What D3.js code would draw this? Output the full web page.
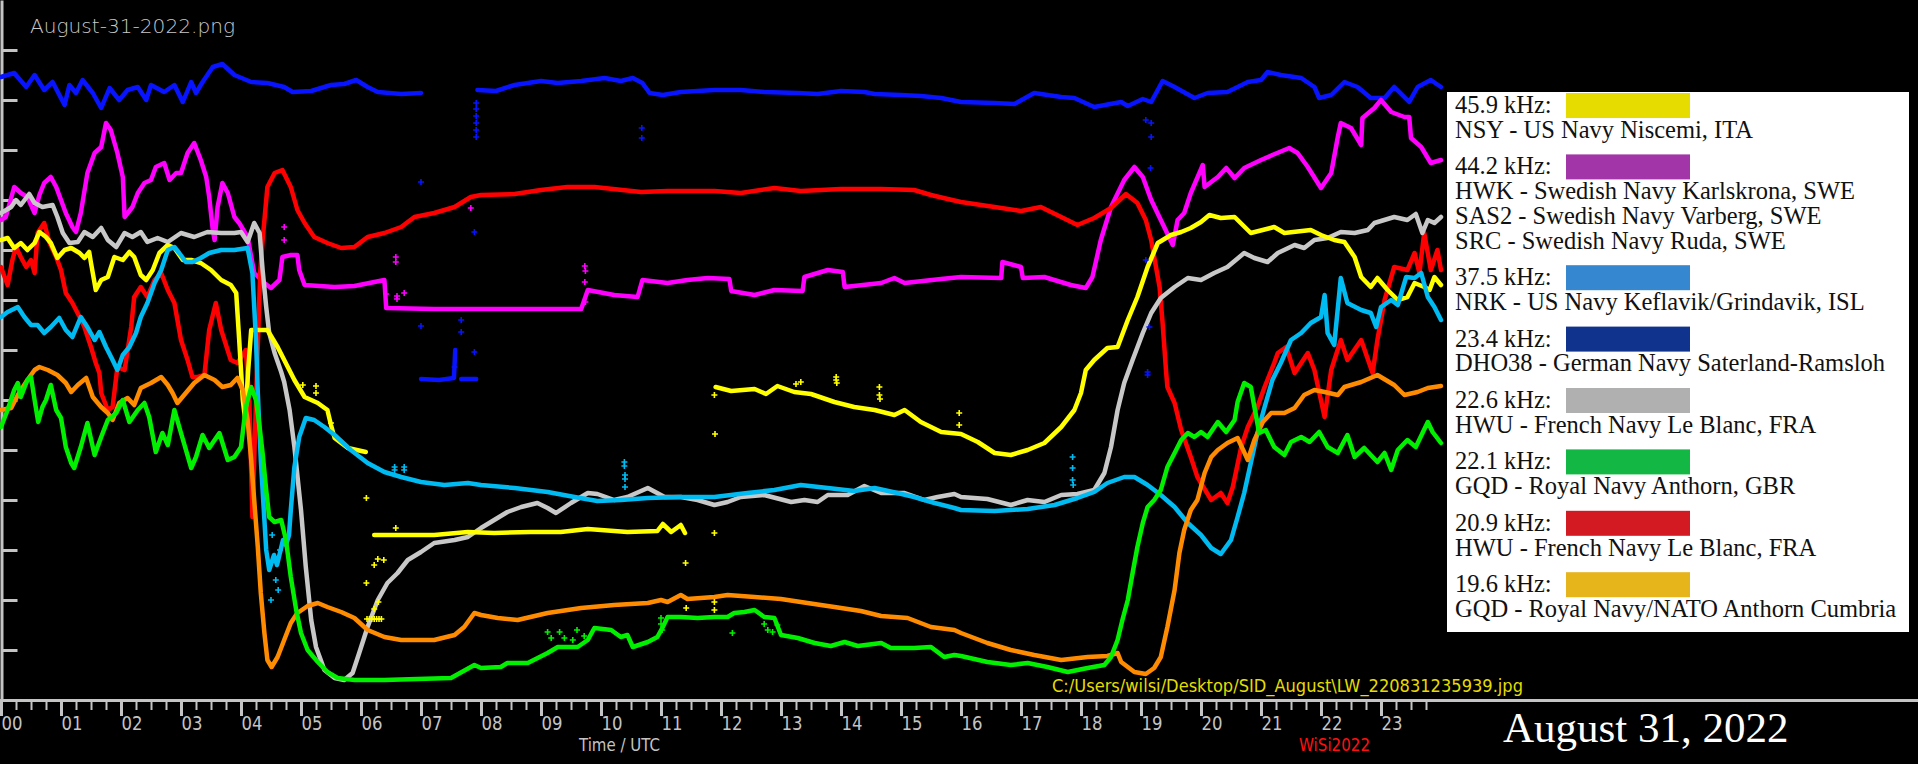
<!DOCTYPE html>
<html><head><meta charset="utf-8">
<script src="https://cdn.jsdelivr.net/npm/d3@7"></script>
<style>html,body{margin:0;padding:0;background:#000;overflow:hidden}</style>
</head><body><svg id="c" width="1918" height="764"></svg>
<script>
// ---------- DATA ----------
const hourLabels = ["00","01","02","03","04","05","06","07","08","09","10","11","12","13","14","15","16","17","18","19","20","21","22","23"];
const titleText = "August-31-2022.png";
const pathText = "C:/Users/wilsi/Desktop/SID_August\\LW_220831235939.jpg";
const axisTitle = "Time / UTC";
const creditText = "WiSi2022";
const dateText = "August 31, 2022";

const legendFreqs = ["45.9 kHz:","44.2 kHz:","37.5 kHz:","23.4 kHz:","22.6 kHz:","22.1 kHz:","20.9 kHz:","19.6 kHz:"];
const legendStations = [
  ["NSY - US Navy Niscemi, ITA"],
  ["HWK - Swedish Navy Karlskrona, SWE","SAS2 - Swedish Navy Varberg, SWE","SRC - Swedish Navy Ruda, SWE"],
  ["NRK - US Navy Keflavik/Grindavik, ISL"],
  ["DHO38 - German Navy Saterland-Ramsloh"],
  ["HWU - French Navy Le Blanc, FRA"],
  ["GQD - Royal Navy Anthorn, GBR"],
  ["HWU - French Navy Le Blanc, FRA"],
  ["GQD - Royal Navy/NATO Anthorn Cumbria"]
];
const legendSwatches = ["#e6dc00","#a236a8","#3587d0","#10348e","#b0b0b0","#12b843","#d31a23","#e6b41b"];

// series: [hour UTC, relative signal level]
const dho38Blue = [[0,623],[0.22,627],[0.42,613],[0.56,625],[0.72,610],[0.86,618],[1.06,595],[1.14,615],[1.25,607],[1.36,620],[1.53,607],[1.67,592],[1.81,612],[1.97,600],[2.11,610],[2.28,613],[2.42,600],[2.5,615],[2.72,608],[2.89,615],[3.03,598],[3.17,618],[3.25,607],[3.36,618],[3.53,633],[3.69,636],[3.89,625],[4.17,618],[4.44,617],[4.72,613],[4.86,608],[5.17,609],[5.5,615],[5.72,616],[5.92,620],[6.11,613],[6.28,608],[6.67,606],[7.0,607],[7.0,null],[7.0,321],[7.3,320],[7.55,322],[7.57,350],[7.6,null],[7.67,321],[7.92,321],[7.93,null],[7.94,610],[8.25,609],[8.56,615],[9,619],[9.28,617],[9.67,619],[10.06,622],[10.33,619],[10.53,622],[10.69,617],[10.81,607],[11.03,605],[11.33,608],[11.89,610],[12.33,610],[12.72,608],[13.28,607],[13.61,606],[14,609],[14.39,608],[14.56,606],[15,605],[15.33,604],[15.67,602],[16.0,598],[16.56,597],[16.89,596],[17.22,607],[17.67,603],[17.89,602],[18.22,593],[18.67,598],[18.78,594],[19.03,601],[19.17,598],[19.36,619],[19.56,613],[19.89,602],[20.11,607],[20.44,608],[20.78,618],[21,620],[21.11,628],[21.33,625],[21.67,622],[21.89,613],[21.97,602],[22.17,605],[22.39,618],[22.61,613],[22.83,602],[23.06,602],[23.22,613],[23.47,598],[23.61,613],[23.83,620],[24,613]];

const sweMagenta = [[0,480],[0.08,483],[0.22,513],[0.33,507],[0.44,503],[0.56,487],[0.64,505],[0.72,517],[0.83,523],[0.92,513],[1.0,500],[1.08,487],[1.19,473],[1.25,468],[1.33,487],[1.44,527],[1.56,547],[1.67,553],[1.75,577],[1.83,570],[1.94,547],[2.03,523],[2.06,483],[2.19,493],[2.28,507],[2.39,517],[2.5,520],[2.58,533],[2.72,537],[2.81,520],[2.92,527],[3.0,527],[3.11,547],[3.22,557],[3.33,540],[3.42,523],[3.47,503],[3.53,470],[3.56,460],[3.61,493],[3.69,517],[3.78,507],[3.89,483],[3.97,477],[4.11,463],[4.22,427],[4.39,417],[4.5,412],[4.64,420],[4.69,443],[4.83,445],[4.94,445],[4.97,430],[5.06,415],[5.56,413],[5.89,414],[6.39,420],[6.42,392],[7.22,391],[8,391],[9.67,391],[9.78,410],[10.22,405],[10.61,403],[10.69,420],[11.11,417],[11.44,420],[11.78,422],[12.14,421],[12.17,409],[12.56,405],[12.89,410],[13.36,409],[13.39,423],[13.78,430],[14.03,428],[14.06,413],[14.67,417],[14.89,422],[15.06,417],[15.67,421],[16,423],[16.67,422],[16.69,438],[17,433],[17.03,422],[17.39,423],[17.83,415],[18.08,412],[18.19,423],[18.33,460],[18.5,493],[18.72,520],[18.89,533],[19.03,523],[19.17,500],[19.33,480],[19.53,455],[19.61,480],[19.72,487],[19.83,507],[20.03,535],[20.06,513],[20.28,523],[20.42,532],[20.56,522],[20.72,532],[21,540],[21.19,545],[21.47,552],[21.61,547],[21.78,533],[22,512],[22.17,527],[22.28,563],[22.33,577],[22.5,572],[22.67,555],[22.69,582],[22.89,592],[23,600],[23.17,588],[23.39,583],[23.47,583],[23.5,562],[23.67,553],[23.83,537],[24,540]];

const hwuRed = [[0,433],[0.11,415],[0.19,440],[0.25,453],[0.33,443],[0.42,433],[0.5,440],[0.56,427],[0.61,467],[0.72,477],[0.81,457],[0.92,443],[1.0,430],[1.08,407],[1.19,397],[1.31,383],[1.39,373],[1.5,353],[1.58,337],[1.64,327],[1.67,307],[1.78,290],[1.86,293],[1.94,333],[2.06,330],[2.17,373],[2.22,403],[2.33,413],[2.44,403],[2.56,420],[2.67,427],[2.78,410],[2.89,397],[3.0,360],[3.11,340],[3.19,323],[3.28,323],[3.39,325],[3.47,370],[3.58,397],[3.67,370],[3.83,340],[3.94,337],[4.08,350],[4.14,297],[4.19,183],[4.25,300],[4.32,427],[4.36,460],[4.44,513],[4.56,527],[4.69,530],[4.83,513],[4.94,490],[5.06,477],[5.22,463],[5.44,457],[5.67,452],[5.89,453],[6.11,463],[6.39,467],[6.67,473],[6.89,483],[7.22,487],[7.56,493],[7.83,503],[8,505],[8.56,506],[9,510],[9.44,513],[9.89,513],[10.67,508],[11.11,509],[11.89,509],[12.33,507],[12.89,512],[13.33,509],[14,511],[14.67,511],[15.22,510],[15.5,505],[15.78,501],[16,498],[16.56,493],[17,489],[17.33,493],[17.67,483],[17.94,475],[18.22,482],[18.5,492],[18.75,506],[18.94,497],[19.08,480],[19.17,460],[19.22,443],[19.31,413],[19.36,377],[19.42,327],[19.44,313],[19.56,297],[19.67,270],[19.83,243],[19.94,223],[20.17,200],[20.33,207],[20.44,197],[20.53,213],[20.67,253],[20.78,273],[20.94,293],[21.06,313],[21.22,337],[21.28,347],[21.42,353],[21.56,327],[21.78,347],[21.89,330],[22.06,283],[22.17,330],[22.33,360],[22.44,340],[22.67,360],[22.86,327],[22.94,360],[23.06,400],[23.22,433],[23.44,430],[23.56,447],[23.64,427],[23.72,467],[23.83,430],[23.94,450],[24,430]];

const hwuGray = [[0,487],[0.17,493],[0.25,500],[0.33,495],[0.47,506],[0.56,497],[0.69,493],[0.86,495],[0.94,483],[1.03,467],[1.14,457],[1.28,458],[1.39,468],[1.53,463],[1.67,472],[1.78,460],[1.92,453],[2.06,467],[2.19,463],[2.33,468],[2.44,458],[2.61,462],[2.78,458],[3.0,467],[3.22,463],[3.44,468],[3.67,467],[3.89,467],[4.0,468],[4.11,458],[4.22,477],[4.31,467],[4.36,430],[4.42,393],[4.47,367],[4.56,347],[4.67,328],[4.72,318],[4.81,290],[4.89,253],[5.0,190],[5.08,133],[5.17,80],[5.25,53],[5.39,30],[5.56,22],[5.72,20],[5.86,27],[5.97,47],[6.11,73],[6.28,100],[6.44,117],[6.61,127],[6.78,140],[7.0,148],[7.22,157],[7.56,160],[7.78,163],[8,172],[8.22,180],[8.44,188],[8.67,193],[8.94,197],[9.11,192],[9.25,187],[9.5,197],[9.78,207],[9.94,206],[10.22,200],[10.44,203],[10.78,212],[11.06,203],[11.33,203],[11.61,200],[11.89,195],[12.11,198],[12.33,203],[12.72,205],[13.17,198],[13.39,200],[13.61,198],[13.78,205],[14.11,205],[14.39,214],[14.67,207],[15.06,207],[15.39,200],[15.61,203],[15.89,206],[16,203],[16.44,201],[16.83,195],[17.11,200],[17.39,198],[17.67,205],[17.94,206],[18.22,210],[18.39,227],[18.5,253],[18.61,290],[18.72,317],[18.86,340],[19.03,367],[19.17,387],[19.33,402],[19.56,413],[19.78,422],[20,420],[20.22,427],[20.44,433],[20.72,447],[20.89,442],[21.11,438],[21.28,447],[21.56,455],[21.72,452],[21.89,460],[22.11,462],[22.33,468],[22.56,467],[22.78,470],[22.89,477],[23.22,483],[23.44,480],[23.58,486],[23.69,467],[23.78,480],[23.89,477],[24,483]];

const nsyYellow = [[0,460],[0.11,462],[0.22,452],[0.33,457],[0.44,450],[0.56,457],[0.64,468],[0.75,463],[0.83,457],[0.94,442],[1.06,450],[1.17,452],[1.31,447],[1.39,442],[1.47,448],[1.5,437],[1.58,410],[1.67,420],[1.78,423],[1.89,443],[2.03,440],[2.14,448],[2.22,443],[2.33,425],[2.42,420],[2.53,430],[2.64,447],[2.78,455],[2.89,452],[3.03,440],[3.17,440],[3.33,437],[3.5,430],[3.67,420],[3.83,415],[3.92,407],[3.97,360],[4.03,300],[4.07,280],[4.12,330],[4.17,370],[4.44,370],[4.61,353],[4.78,333],[4.89,320],[5.06,303],[5.28,297],[5.44,290],[5.5,275],[5.56,262],[5.78,252],[6.08,248],[6.1,null],[6.22,165],[6.67,165],[7.22,165],[7.78,168],[8.22,167],[8.83,168],[9.33,168],[9.78,171],[10.44,168],[10.94,169],[11.03,176],[11.17,168],[11.33,175],[11.4,167],[11.5,null],[11.91,313],[12.17,309],[12.56,311],[12.75,306],[12.94,314],[13.22,308],[13.5,306],[13.89,298],[14.22,293],[14.56,290],[14.89,285],[15.06,290],[15.33,278],[15.67,268],[16,266],[16.28,258],[16.56,247],[16.83,245],[17.11,250],[17.39,257],[17.67,273],[17.89,290],[18.0,307],[18.08,330],[18.22,340],[18.44,352],[18.61,353],[18.78,380],[18.94,403],[19.11,433],[19.28,457],[19.5,465],[19.67,468],[19.83,472],[20,478],[20.14,485],[20.33,482],[20.56,483],[20.83,467],[21.22,473],[21.39,467],[21.83,470],[22,465],[22.22,460],[22.39,458],[22.56,443],[22.67,423],[22.83,413],[22.94,422],[23.11,410],[23.28,400],[23.44,403],[23.56,417],[23.72,413],[23.81,410],[23.89,423],[24,415]];

const nrkCyan = [[0,383],[0.11,388],[0.28,393],[0.39,383],[0.5,375],[0.61,375],[0.72,367],[0.83,373],[0.97,382],[1.08,370],[1.19,363],[1.33,383],[1.44,373],[1.56,360],[1.64,368],[1.75,353],[1.86,340],[1.94,330],[2.03,345],[2.14,353],[2.25,367],[2.33,383],[2.44,397],[2.56,417],[2.67,430],[2.78,450],[2.89,453],[2.97,447],[3.08,438],[3.19,438],[3.33,442],[3.47,447],[3.67,450],[3.89,450],[4.11,452],[4.19,427],[4.22,393],[4.25,360],[4.28,307],[4.33,240],[4.39,180],[4.42,150],[4.47,130],[4.55,145],[4.6,135],[4.7,160],[4.75,155],[4.8,165],[4.83,190],[4.89,233],[4.97,263],[5.08,282],[5.22,280],[5.39,273],[5.56,265],[5.83,250],[6.11,237],[6.39,228],[6.67,223],[7,218],[7.39,215],[7.78,217],[8,215],[8.56,212],[9.11,208],[9.56,203],[9.94,199],[10.33,200],[10.78,202],[11.33,203],[11.89,203],[12.44,207],[12.89,210],[13.33,215],[13.78,212],[14.22,209],[14.56,212],[14.94,207],[15.22,203],[15.56,197],[15.89,192],[16,190],[16.56,189],[17.11,191],[17.56,195],[17.94,202],[18.22,208],[18.44,217],[18.72,223],[18.89,223],[19.11,215],[19.33,205],[19.56,193],[19.78,177],[20,165],[20.17,152],[20.33,146],[20.5,160],[20.61,183],[20.72,207],[20.83,237],[20.94,267],[21.06,293],[21.19,320],[21.33,337],[21.5,360],[21.67,367],[21.83,377],[22,383],[22.06,405],[22.11,367],[22.22,355],[22.33,422],[22.44,397],[22.67,390],[22.83,387],[22.92,373],[23,393],[23.17,400],[23.28,395],[23.42,423],[23.56,422],[23.67,427],[23.78,403],[23.89,393],[24,380]];

const gqdOrange = [[0,290],[0.17,292],[0.28,305],[0.44,320],[0.56,330],[0.64,333],[0.78,330],[0.94,325],[1.08,317],[1.17,308],[1.28,315],[1.42,322],[1.53,303],[1.67,293],[1.78,287],[1.86,280],[1.97,297],[2.11,302],[2.22,295],[2.33,312],[2.5,317],[2.67,323],[2.78,315],[2.86,307],[2.94,297],[3.08,307],[3.22,317],[3.39,325],[3.56,320],[3.69,313],[3.83,315],[3.94,322],[4.03,310],[4.11,280],[4.17,240],[4.22,200],[4.28,153],[4.33,107],[4.39,67],[4.44,40],[4.51,33],[4.61,43],[4.72,60],[4.83,77],[4.94,87],[5.11,94],[5.28,97],[5.44,93],[5.67,88],[5.89,82],[6.11,70],[6.39,63],[6.67,60],[7,60],[7.22,60],[7.56,65],[7.72,73],[7.89,87],[8,85],[8.28,82],[8.61,80],[9.11,87],[9.67,92],[10.22,95],[10.78,97],[11,100],[11.11,98],[11.33,105],[11.44,101],[11.89,103],[12.11,105],[12.56,103],[13,101],[13.44,97],[13.89,93],[14.33,89],[14.67,84],[15.11,82],[15.5,73],[15.89,70],[16,67],[16.44,57],[16.83,50],[17.22,45],[17.67,40],[18.11,43],[18.44,44],[18.61,47],[18.67,38],[18.89,28],[19.08,26],[19.22,32],[19.33,43],[19.44,73],[19.56,110],[19.64,147],[19.72,170],[19.83,190],[19.94,200],[20.06,227],[20.17,243],[20.28,250],[20.44,257],[20.61,262],[20.78,240],[20.89,260],[21.03,278],[21.17,287],[21.39,287],[21.56,292],[21.72,305],[21.89,310],[22.06,308],[22.28,305],[22.39,313],[22.67,318],[22.94,325],[23.22,315],[23.39,305],[23.61,308],[23.78,312],[24,314]];

const gqdGreen = [[0,273],[0.11,290],[0.22,310],[0.28,317],[0.33,303],[0.44,320],[0.5,323],[0.56,300],[0.62,278],[0.69,293],[0.75,300],[0.83,315],[0.92,290],[1.0,282],[1.08,253],[1.17,237],[1.22,232],[1.33,253],[1.44,277],[1.56,245],[1.67,263],[1.78,280],[1.92,287],[2.03,300],[2.14,278],[2.28,290],[2.39,297],[2.47,283],[2.58,248],[2.69,267],[2.78,255],[2.89,290],[3.0,267],[3.17,232],[3.25,243],[3.36,265],[3.47,252],[3.64,267],[3.78,240],[3.89,243],[4.0,253],[4.08,293],[4.17,313],[4.25,300],[4.31,273],[4.36,247],[4.42,210],[4.47,183],[4.56,178],[4.67,180],[4.75,160],[4.83,123],[4.92,90],[5.0,67],[5.11,50],[5.28,38],[5.44,28],[5.61,22],[5.89,20],[6.39,20],[6.94,21],[7.5,22],[7.89,35],[8,32],[8.33,33],[8.44,37],[8.78,37],[9.11,47],[9.28,53],[9.61,53],[9.78,60],[9.89,72],[10.17,70],[10.33,63],[10.44,65],[10.53,53],[10.78,58],[10.94,63],[11.03,73],[11.11,83],[11.33,83],[11.61,82],[11.89,83],[12.11,83],[12.22,87],[12.39,88],[12.56,90],[12.72,83],[12.89,82],[13.0,65],[13.28,62],[13.56,57],[13.83,54],[14.06,58],[14.28,54],[14.67,57],[14.83,52],[15.22,52],[15.5,53],[15.72,43],[15.89,45],[16,44],[16.44,38],[16.83,35],[17.11,37],[17.44,33],[17.78,28],[18.11,32],[18.39,35],[18.5,43],[18.61,60],[18.69,80],[18.78,100],[18.86,127],[18.94,153],[19.03,177],[19.11,193],[19.22,200],[19.33,210],[19.44,233],[19.56,247],[19.67,260],[19.78,267],[19.89,263],[20,268],[20.11,263],[20.28,278],[20.42,268],[20.56,280],[20.61,298],[20.72,317],[20.83,313],[20.89,293],[20.97,267],[21.08,270],[21.22,253],[21.39,245],[21.5,258],[21.67,263],[21.81,258],[21.97,268],[22.11,253],[22.28,247],[22.44,265],[22.56,243],[22.72,252],[22.94,238],[23.06,247],[23.17,230],[23.28,250],[23.44,260],[23.58,253],[23.78,278],[23.86,268],[24,257]];

// stray single samples
const blueStray = [[7.0,518],[7.0,374],[7.56,333],[7.67,380],[7.67,368],[7.89,468],[7.89,348],[7.92,563],[7.92,570],[7.92,577],[7.92,584],[7.92,591],[7.92,597],[10.68,572],[10.68,562],[19.08,580],[19.17,577],[19.17,563],[19.16,532],[19.08,440],[19.14,373],[19.11,325],[19.11,328]];
const yellowStray = [[5.03,315],[5.25,314],[5.25,307],[5.5,277],[6.09,202],[6.58,172],[6.28,141],[6.38,140],[6.22,135],[6.09,117],[6.29,98],[6.22,91],[6.1,81],[6.14,81],[6.18,81],[6.22,81],[6.26,81],[6.3,81],[6.34,81],[11.41,137],[11.42,92],[11.89,98],[11.89,90],[11.89,167],[11.9,266],[11.89,305],[13.25,316],[13.33,318],[13.92,323],[13.92,320],[13.93,317],[14.64,313],[14.64,305],[14.65,301],[15.97,287],[15.97,275]];
const cyanStray = [[10.39,238],[10.39,234],[10.4,225],[10.4,221],[10.4,213],[17.86,243],[17.86,232],[17.86,220],[17.87,215],[6.56,233],[6.56,230],[6.72,233],[6.72,230],[4.52,165],[4.58,120],[4.62,110],[4.65,150],[4.5,100]];
const magentaStray = [[4.72,473],[4.72,460],[6.58,443],[6.58,438],[6.42,406],[6.6,404],[6.6,401],[6.72,407],[7.83,492],[9.73,434],[9.74,429],[9.73,418],[9.74,398]];
const greenStray = [[9.11,68],[9.17,62],[9.31,68],[9.39,62],[9.53,60],[9.6,70],[9.72,64],[11.0,82],[11.0,76],[11.02,70],[12.19,67],[12.72,76],[12.78,70],[12.86,68],[12.94,75]];

// ---------- CHART ----------
const W = 1918, H = 764;
const svg = d3.select("#c");
svg.append("rect").attr("width", W).attr("height", H).attr("fill", "#000");

const x = d3.scaleLinear().domain([0, 24]).range([1, 1441]);
const y = d3.scaleLinear().domain([0, 700]).range([700, 0]);
const axisGray = "#c4c4c4";

// y axis (no labels)
const yAx = svg.append("g").attr("transform", "translate(1.5,0)")
  .call(d3.axisRight(y).tickValues(d3.range(50, 700, 50)).tickSize(16).tickSizeOuter(0).tickFormat(""));
yAx.select(".domain").attr("stroke", axisGray).attr("stroke-width", 3);
yAx.selectAll(".tick line").attr("stroke", axisGray).attr("stroke-width", 3);

// x axis minor + major
const xMinor = svg.append("g").attr("transform", "translate(0,700)")
  .call(d3.axisBottom(x).tickValues(d3.range(0, 24, 0.25)).tickSize(10).tickFormat(""));
xMinor.select(".domain").remove();
xMinor.selectAll(".tick line").attr("stroke", axisGray).attr("stroke-width", 2);

const xMajor = svg.append("g").attr("transform", "translate(0,700)")
  .call(d3.axisBottom(x).tickValues(d3.range(0, 24)).tickSize(16).tickFormat(h => hourLabels[h]));
xMajor.select(".domain").remove();
xMajor.selectAll(".tick line").attr("stroke", axisGray).attr("stroke-width", 3);
xMajor.selectAll(".tick text")
  .attr("fill", axisGray).attr("font-family", "DejaVu Sans").attr("font-size", 20)
  .attr("text-anchor", "start").attr("y", 29.5).attr("dy", 0)
  .attr("textLength", 21).attr("lengthAdjust", "spacingAndGlyphs");

svg.append("line").attr("x1", 0).attr("x2", W).attr("y1", 700.5).attr("y2", 700.5)
  .attr("stroke", axisGray).attr("stroke-width", 3);

// traces
const line = d3.line().defined(d => d[1] != null).x(d => x(d[0])).y(d => y(d[1]));
const series = [
  {data: dho38Blue, color: "#0814ff"},
  {data: sweMagenta, color: "#ff00ff"},
  {data: hwuRed, color: "#ff0000"},
  {data: hwuGray, color: "#c8c8c8"},
  {data: nsyYellow, color: "#ffff00"},
  {data: nrkCyan, color: "#00bbf2"},
  {data: gqdOrange, color: "#ff8c00"},
  {data: gqdGreen, color: "#00f000"}
];
const plot = svg.append("g");
plot.selectAll("path.trace").data(series).join("path").attr("class", "trace")
  .attr("d", s => line(s.data)).attr("fill", "none")
  .attr("stroke", s => s.color).attr("stroke-width", 4.5)
  .attr("stroke-linejoin", "round").attr("stroke-linecap", "round");

const strays = [
  {data: blueStray, color: "#0814ff"},
  {data: yellowStray, color: "#ffff00"},
  {data: cyanStray, color: "#00bbf2"},
  {data: magentaStray, color: "#ff00ff"},
  {data: greenStray, color: "#00f000"}
];
strays.forEach(s => {
  plot.append("g").selectAll("path").data(s.data).join("path")
    .attr("d", d => `M${x(d[0]) - 3},${y(d[1])}h6M${x(d[0])},${y(d[1]) - 3}v6`)
    .attr("stroke", s.color).attr("stroke-width", 1.6);
});

// texts
svg.append("text").attr("x", 30).attr("y", 33).text(titleText)
  .attr("fill", "#c8c8c8").attr("font-family", "DejaVu Sans").attr("font-weight", 200).attr("font-size", 20)
  .attr("textLength", 205).attr("lengthAdjust", "spacingAndGlyphs");
svg.append("text").attr("x", 1052).attr("y", 692).text(pathText)
  .attr("fill", "#e6dc00").attr("font-family", "DejaVu Sans").attr("font-size", 17)
  .attr("textLength", 471).attr("lengthAdjust", "spacingAndGlyphs");
svg.append("text").attr("x", 579).attr("y", 751).text(axisTitle)
  .attr("fill", axisGray).attr("font-family", "DejaVu Sans").attr("font-size", 17)
  .attr("textLength", 81).attr("lengthAdjust", "spacingAndGlyphs");
svg.append("text").attr("x", 1299).attr("y", 751).text(creditText)
  .attr("fill", "#ff1010").attr("font-family", "DejaVu Sans").attr("font-size", 17)
  .attr("textLength", 71).attr("lengthAdjust", "spacingAndGlyphs");
svg.append("text").attr("x", 1503).attr("y", 742).text(dateText)
  .attr("fill", "#ffffff").attr("font-family", "Liberation Serif").attr("font-size", 43);

// legend
const lg = svg.append("g");
lg.append("rect").attr("x", 1447).attr("y", 92).attr("width", 462).attr("height", 540).attr("fill", "#fff");
let base = 113;
const lineH = 24.7, groupGap = 36.7;
legendFreqs.forEach((f, i) => {
  lg.append("rect").attr("x", 1566).attr("y", base - 20).attr("width", 124).attr("height", 25)
    .attr("fill", legendSwatches[i]);
  lg.append("text").attr("x", 1455).attr("y", base).text(f)
    .attr("font-family", "Liberation Serif").attr("font-size", 24.5).attr("fill", "#111");
  legendStations[i].forEach((s, j) => {
    base += lineH;
    lg.append("text").attr("x", 1455).attr("y", base).text(s)
      .attr("font-family", "Liberation Serif").attr("font-size", 24.5).attr("fill", "#111");
  });
  base += groupGap;
});
</script>
</body></html>
